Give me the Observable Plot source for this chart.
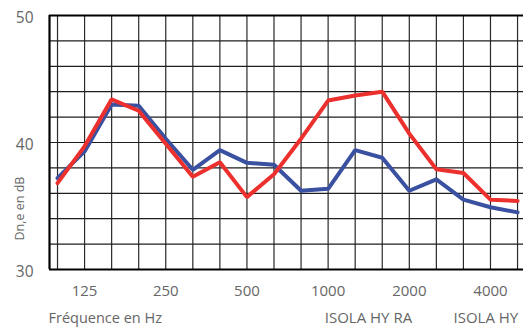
<!DOCTYPE html>
<html>
<head>
<meta charset="utf-8">
<script src="https://cdn.jsdelivr.net/npm/d3@7"></script>
<script src="https://cdn.jsdelivr.net/npm/@observablehq/plot@0.6"></script>
<style>
  html, body { margin: 0; padding: 0; background: #fff; }
  #chart { width: 523px; height: 329px; }
</style>
</head>
<body>
<div id="chart"></div>
<script>
// Third-octave band centre frequencies (Hz)
const frequencies = [100, 125, 160, 200, 250, 315, 400, 500, 630, 800, 1000, 1250, 1600, 2000, 2500, 3150, 4000, 5000];
// Labelled frequencies on the x axis
const tickFrequencies = [125, 250, 500, 1000, 2000, 4000];
// Y tick labels
const yTicks = [30, 40, 50];
// Series: Dn,e in dB
const isolaHY   = [37.2, 39.3, 43.0, 42.9, 40.3, 37.85, 39.4, 38.4, 38.25, 36.2, 36.35, 39.4, 38.8, 36.2, 37.1, 35.5, 34.9, 34.5];
const isolaHYRA = [36.8, 39.7, 43.4, 42.5, 39.9, 37.3, 38.45, 35.7, 37.5, 40.3, 43.3, 43.7, 44.0, 40.7, 37.9, 37.6, 35.5, 35.4];
const seriesNames = ["ISOLA HY RA", "ISOLA HY"];

const idx = frequencies.map((f, i) => i);
const blue = isolaHY.map((v, i) => ({i, v}));
const red = isolaHYRA.map((v, i) => ({i, v}));
const gridY = d3.range(32, 50, 2);
const xMin = -0.296, xMax = 17.22;

const font = "'Open Sans', 'Noto Sans', sans-serif";
const grey = "#666666";

const chart = Plot.plot({
  width: 523,
  height: 329,
  marginLeft: 49,
  marginRight: 0,
  marginTop: 15,
  marginBottom: 60,
  style: {fontFamily: font, background: "#fff"},
  x: {type: "linear", domain: [xMin, xMax], axis: null},
  y: {domain: [30, 50], axis: null},
  marks: [
    Plot.ruleX(idx, {x: d => d, y1: 30, y2: 50, stroke: "#2a2a2a", strokeWidth: 1.2}),
    Plot.ruleY(gridY, {y: d => d, stroke: "#1e1e1e", strokeWidth: 1.2}),
    Plot.ruleY([30, 50], {stroke: "#000", strokeWidth: 2}),
    Plot.ruleX([xMin], {y1: 30, y2: 50, stroke: "#000", strokeWidth: 2.2}),
    Plot.line(blue, {x: "i", y: "v", stroke: "#3a50a0", strokeWidth: 4, strokeLinejoin: "miter"}),
    Plot.line(red, {x: "i", y: "v", stroke: "#ec302d", strokeWidth: 4, strokeLinejoin: "miter"}),
    Plot.axisY(yTicks, {tickSize: 0, tickPadding: 16, fontSize: 15.5, fill: grey, dy: 3, label: null}),
    Plot.axisX(tickFrequencies.map(f => frequencies.indexOf(f)), {
      tickSize: 0, tickPadding: 16, fontSize: 15, fill: grey, label: null,
      tickFormat: i => String(frequencies[i])
    }),
    Plot.text(["Fréquence en Hz"], {frameAnchor: "bottom-left", text: d => d, dx: -1, dy: 49,
      textAnchor: "start", lineAnchor: "middle", fontSize: 14.5, fill: grey}),
    Plot.text(["Dn,e en dB"], {frameAnchor: "left", text: d => d, dx: -30, dy: 66, rotate: -90,
      textAnchor: "middle", lineAnchor: "middle", fontSize: 12.5, fill: grey}),
    Plot.text(seriesNames, {x: [11.49, 15.83], frameAnchor: "bottom", text: d => d, dy: 49,
      textAnchor: "middle", lineAnchor: "middle", fontSize: 15, fill: grey})
  ]
});
document.getElementById("chart").appendChild(chart);
</script>
</body>
</html>
